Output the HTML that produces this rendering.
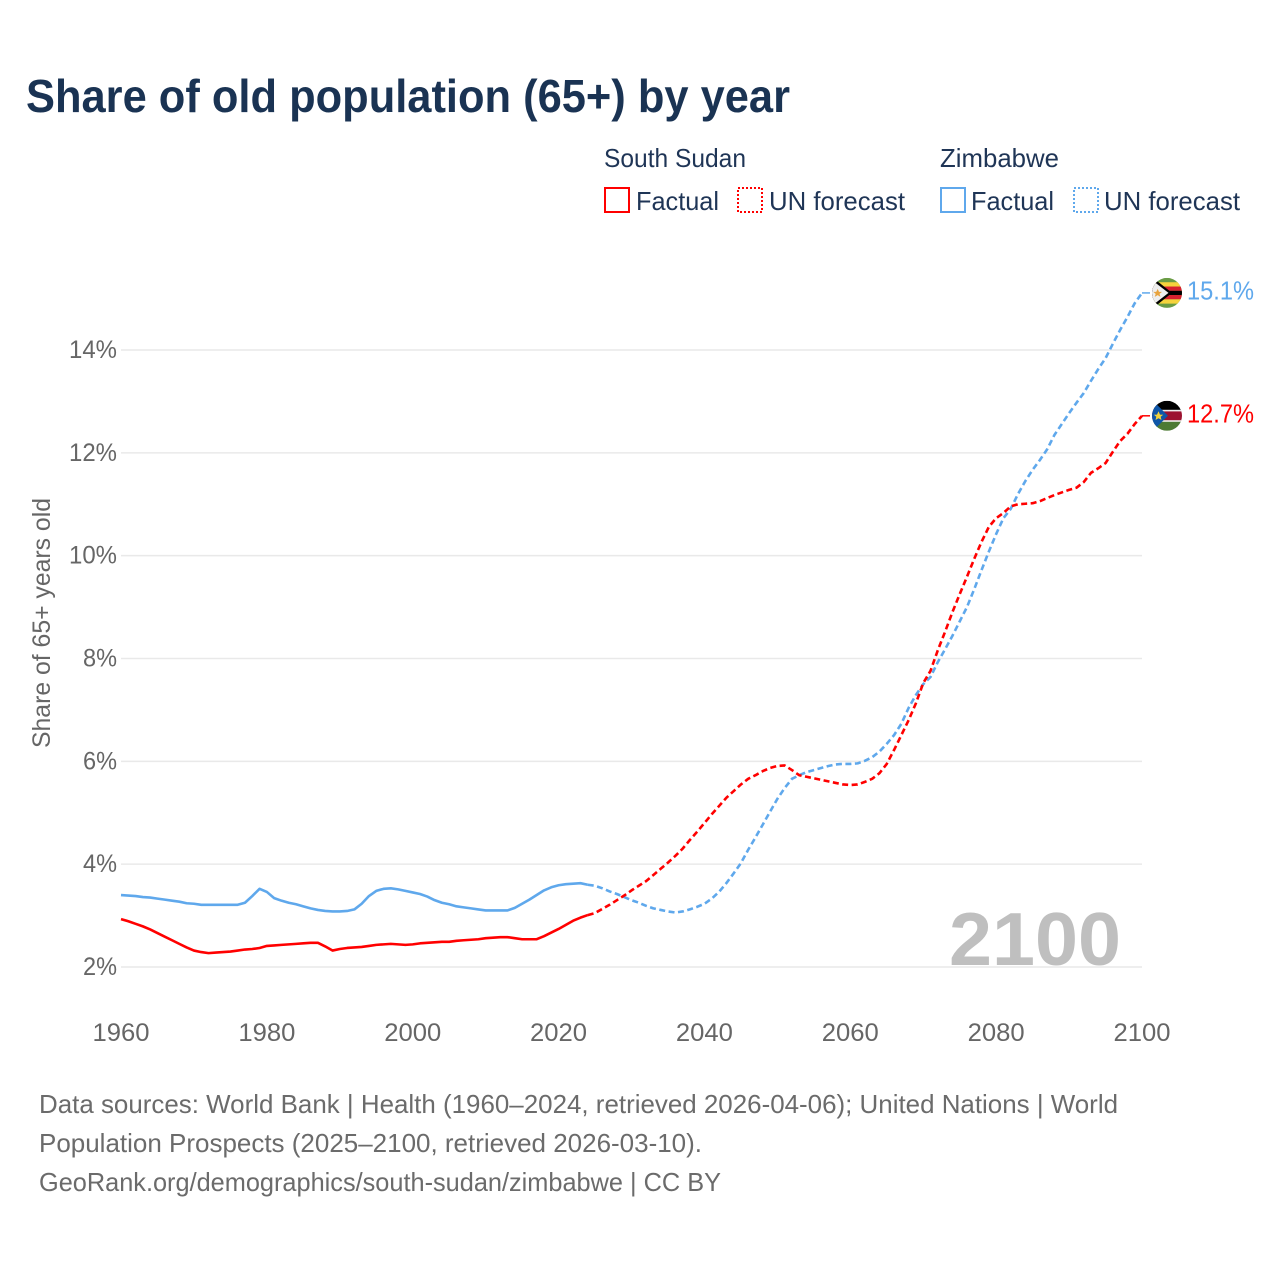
<!DOCTYPE html>
<html lang="en">
<head>
<meta charset="utf-8">
<title>Share of old population (65+) by year</title>
<style>
html,body{margin:0;padding:0;background:#fff;width:1280px;height:1280px;overflow:hidden}
svg{display:block}
text{font-family:"Liberation Sans",sans-serif}
</style>
</head>
<body>
<svg id="chart" xmlns="http://www.w3.org/2000/svg" width="1280" height="1280" viewBox="0 0 1280 1280">
  <defs>
    <clipPath id="flag-clip"><circle cx="0" cy="0" r="15"/></clipPath>
  </defs>
  <rect x="0" y="0" width="1280" height="1280" fill="#fff"/>
  <text x="26" y="112" font-size="46" font-weight="700" fill="#1a3353" textLength="764" lengthAdjust="spacingAndGlyphs">Share of old population (65+) by year</text>

  <g font-size="26" fill="#1f3556">
    <text x="604" y="167" textLength="142" lengthAdjust="spacingAndGlyphs">South Sudan</text>
    <text x="940" y="167" textLength="119" lengthAdjust="spacingAndGlyphs">Zimbabwe</text>
    <rect x="605" y="188" width="24" height="24" fill="none" stroke="#ff0000" stroke-width="2"/>
    <text x="636" y="210" textLength="83" lengthAdjust="spacingAndGlyphs">Factual</text>
    <rect x="738" y="188" width="24" height="24" fill="none" stroke="#ff0000" stroke-width="2" stroke-dasharray="2 2"/>
    <text x="769" y="210" textLength="136" lengthAdjust="spacingAndGlyphs">UN forecast</text>
    <rect x="941" y="188" width="24" height="24" fill="none" stroke="#5fa8ec" stroke-width="2"/>
    <text x="971" y="210" textLength="83" lengthAdjust="spacingAndGlyphs">Factual</text>
    <rect x="1074" y="188" width="24" height="24" fill="none" stroke="#5fa8ec" stroke-width="2" stroke-dasharray="2 2"/>
    <text x="1104" y="210" textLength="136" lengthAdjust="spacingAndGlyphs">UN forecast</text>
  </g>

  <g id="grid"></g>
  <g id="y-axis"></g>
  <g id="x-axis"></g>
  <text transform="translate(50,748) rotate(-90)" font-size="25" fill="#666" textLength="250" lengthAdjust="spacingAndGlyphs">Share of 65+ years old</text>
  <text id="year-watermark" x="949" y="965" font-size="75" font-weight="700" fill="#bfbfbf" textLength="172" lengthAdjust="spacingAndGlyphs"></text>
  <g id="series"></g>

  <g id="flag-zimbabwe">
    <g clip-path="url(#flag-clip)">
      <rect x="-15" y="-15" width="30" height="30" fill="#6a9c45"/>
      <rect x="-15" y="-10.7" width="30" height="4.3" fill="#f6d33c"/>
      <rect x="-15" y="-6.4" width="30" height="4.3" fill="#d8212f"/>
      <rect x="-15" y="-2.1" width="30" height="4.2" fill="#000"/>
      <rect x="-15" y="2.1" width="30" height="4.3" fill="#d8212f"/>
      <rect x="-15" y="6.4" width="30" height="4.3" fill="#f6d33c"/>
      <polygon points="-16,-16.8 5,0 -16,16.8" fill="#000"/>
      <polygon points="-16,-13.6 1.5,0 -16,13.6" fill="#eeeeee"/>
      <polygon points="-9.3,-4 -8,-1 -5,-1 -7.5,1 -6.5,4 -9.3,2.2 -12.3,4 -11.3,1 -13.8,-1 -10.8,-1" fill="#e8a33d"/>
    </g>
  </g>
  <g id="flag-south-sudan">
    <g clip-path="url(#flag-clip)">
      <rect x="-15" y="-15" width="30" height="10" fill="#000"/>
      <rect x="-15" y="-5" width="30" height="10" fill="#9c1230"/>
      <rect x="-15" y="5" width="30" height="10" fill="#4c7a33"/>
      <rect x="-15" y="-6" width="30" height="1.6" fill="#eee"/>
      <rect x="-15" y="4.4" width="30" height="1.6" fill="#eee"/>
      <polygon points="-16,-17 1,0 -16,17" fill="#0f56a8"/>
      <polygon points="-8.5,-4.5 -7,-1.2 -3.8,-1 -6.3,1 -5.5,4.2 -8.5,2.4 -11.5,4.2 -10.7,1 -13.2,-1 -10,-1.2" fill="#f3d23c"/>
    </g>
  </g>
  <text id="label-zimbabwe" x="1187" font-size="26" fill="#5fa8ec" textLength="67" lengthAdjust="spacingAndGlyphs"></text>
  <text id="label-south-sudan" x="1187" font-size="26" fill="#ff0000" textLength="67" lengthAdjust="spacingAndGlyphs"></text>

  <g font-size="26" fill="#6b6b6b">
    <text x="39" y="1113" textLength="1079" lengthAdjust="spacingAndGlyphs">Data sources: World Bank | Health (1960–2024, retrieved 2026-04-06); United Nations | World</text>
    <text x="39" y="1152" textLength="663" lengthAdjust="spacingAndGlyphs">Population Prospects (2025–2100, retrieved 2026-03-10).</text>
    <text x="39" y="1191" textLength="682" lengthAdjust="spacingAndGlyphs">GeoRank.org/demographics/south-sudan/zimbabwe | CC BY</text>
  </g>
</svg>
<script>
const factualStartYear = 1960;
const forecastStartYear = 2024;
const xTickLabels = [1960, 1980, 2000, 2020, 2040, 2060, 2080, 2100];
const yTickLabels = [2, 4, 6, 8, 10, 12, 14];

const southSudanFactual = [
  2.93,2.89,2.84,2.79,2.73,2.66,2.59,2.52,2.45,2.38,
  2.32,2.29,2.27,2.28,2.29,2.30,2.32,2.34,2.35,2.37,
  2.41,2.42,2.43,2.44,2.45,2.46,2.47,2.47,2.40,2.32,
  2.35,2.37,2.38,2.39,2.41,2.43,2.44,2.45,2.44,2.43,
  2.44,2.46,2.47,2.48,2.49,2.49,2.51,2.52,2.53,2.54,
  2.56,2.57,2.58,2.58,2.56,2.54,2.54,2.54,2.60,2.67,
  2.74,2.82,2.90,2.96,3.01
];
const southSudanForecast = [
  3.01,3.05,3.13,3.21,3.30,3.39,
  3.49,3.58,3.67,3.79,3.91,4.03,4.16,4.30,4.47,4.63,
  4.80,4.97,5.13,5.29,5.42,5.55,5.66,5.73,5.81,5.87,
  5.91,5.92,5.83,5.73,5.70,5.67,5.64,5.61,5.58,5.55,
  5.54,5.55,5.60,5.66,5.77,5.95,6.22,6.51,6.80,7.13,
  7.52,7.76,8.16,8.52,8.90,9.25,9.59,9.94,10.27,10.56,
  10.73,10.83,10.96,11.00,11.01,11.02,11.06,11.12,11.18,11.23,
  11.28,11.32,11.43,11.61,11.70,11.80,12.02,12.23,12.37,12.56,
  12.72
];
const zimbabweFactual = [
  3.40,3.39,3.38,3.36,3.35,3.33,3.31,3.29,3.27,3.24,
  3.23,3.21,3.21,3.21,3.21,3.21,3.21,3.25,3.38,3.52,
  3.46,3.34,3.29,3.25,3.22,3.18,3.14,3.11,3.09,3.08,
  3.08,3.09,3.12,3.23,3.38,3.48,3.52,3.53,3.51,3.48,
  3.45,3.42,3.37,3.30,3.25,3.22,3.18,3.16,3.14,3.12,
  3.10,3.10,3.10,3.10,3.15,3.23,3.31,3.40,3.49,3.55,
  3.59,3.61,3.62,3.63,3.60
];
const zimbabweForecast = [
  3.60,3.58,3.53,3.47,3.42,3.36,
  3.30,3.25,3.19,3.14,3.11,3.08,3.06,3.08,3.12,3.17,
  3.23,3.33,3.46,3.63,3.82,4.02,4.28,4.52,4.77,5.02,
  5.27,5.48,5.66,5.73,5.79,5.83,5.87,5.91,5.94,5.95,
  5.95,5.96,6.01,6.08,6.19,6.34,6.51,6.73,7.04,7.29,
  7.50,7.64,7.93,8.18,8.44,8.72,9.00,9.35,9.72,10.08,
  10.42,10.73,10.91,11.20,11.45,11.67,11.86,12.07,12.35,12.56,
  12.77,12.97,13.16,13.40,13.63,13.84,14.12,14.39,14.64,14.91,
  15.11
];

const NS = 'http://www.w3.org/2000/svg';
const xScale = function (year) { return 121 + (year - 1960) * (1142 - 121) / 140; };
const yScale = function (value) { return 967 - (value - 2) * (967 - 350) / 12; };

const gridGroup = document.getElementById('grid');
const yAxisGroup = document.getElementById('y-axis');
const xAxisGroup = document.getElementById('x-axis');
const seriesGroup = document.getElementById('series');

yTickLabels.forEach(function (tick) {
  const line = document.createElementNS(NS, 'line');
  
  
  line.setAttribute('x1', xScale(1960));
  line.setAttribute('x2', xScale(2100));
  line.setAttribute('y1', yScale(tick));
  line.setAttribute('y2', yScale(tick));
  line.setAttribute('stroke', '#e9e9e9');
  line.setAttribute('stroke-width', '1.5');
  gridGroup.appendChild(line);

  const label = document.createElementNS(NS, 'text');
  
  
  label.setAttribute('x', 117);
  label.setAttribute('y', yScale(tick) + 8);
  label.setAttribute('text-anchor', 'end');
  label.setAttribute('font-size', '25');
  label.setAttribute('fill', '#666');
  label.setAttribute('textLength', tick >= 10 ? 48 : 34);
  label.setAttribute('lengthAdjust', 'spacingAndGlyphs');
  label.textContent = tick + '%';
  yAxisGroup.appendChild(label);
});

xTickLabels.forEach(function (tick) {
  const label = document.createElementNS(NS, 'text');
  
  
  label.setAttribute('x', xScale(tick));
  label.setAttribute('y', 1041);
  label.setAttribute('text-anchor', 'middle');
  label.setAttribute('font-size', '25');
  label.setAttribute('fill', '#666');
  label.setAttribute('textLength', 57);
  label.setAttribute('lengthAdjust', 'spacingAndGlyphs');
  label.textContent = tick;
  xAxisGroup.appendChild(label);
});

function pathFor(values, startYear) {
  return values.map(function (value, i) {
    return (i ? 'L' : 'M') + xScale(startYear + i).toFixed(2) + ' ' + yScale(value).toFixed(2);
  }).join(' ');
}

function addLine(name, values, startYear, color, dashed) {
  const path = document.createElementNS(NS, 'path');
  
  
  path.setAttribute('d', pathFor(values, startYear));
  path.setAttribute('fill', 'none');
  path.setAttribute('stroke', color);
  path.setAttribute('stroke-width', '2.6');
  path.setAttribute('stroke-linejoin', 'round');
  if (dashed) {
    path.setAttribute('stroke-dasharray', '6 3.5');
  }
  seriesGroup.appendChild(path);
}

addLine('line-zimbabwe-factual', zimbabweFactual, factualStartYear, '#5fa8ec', false);
addLine('line-south-sudan-factual', southSudanFactual, factualStartYear, '#ff0000', false);
addLine('line-zimbabwe-forecast', zimbabweForecast, forecastStartYear, '#5fa8ec', true);
addLine('line-south-sudan-forecast', southSudanForecast, forecastStartYear, '#ff0000', true);

function addEnd(name, values, color, flagId, labelId) {
  const lastValue = values[values.length - 1];
  const endY = yScale(lastValue);
  const stub = document.createElementNS(NS, 'line');
  
  
  stub.setAttribute('x1', xScale(2100));
  stub.setAttribute('x2', xScale(2100) + 8);
  stub.setAttribute('y1', endY);
  stub.setAttribute('y2', endY);
  stub.setAttribute('stroke', color);
  stub.setAttribute('stroke-width', '1.5');
  seriesGroup.appendChild(stub);
  document.getElementById(flagId).setAttribute('transform', 'translate(1167,' + endY.toFixed(2) + ')');
  const label = document.getElementById(labelId);
  label.setAttribute('y', endY + 6.5);
  label.textContent = lastValue.toFixed(1) + '%';
}

addEnd('connector-zimbabwe', zimbabweForecast, '#5fa8ec', 'flag-zimbabwe', 'label-zimbabwe');
addEnd('connector-south-sudan', southSudanForecast, '#ff0000', 'flag-south-sudan', 'label-south-sudan');

document.getElementById('year-watermark').textContent = forecastStartYear + zimbabweForecast.length - 1;
</script>
</body>
</html>
